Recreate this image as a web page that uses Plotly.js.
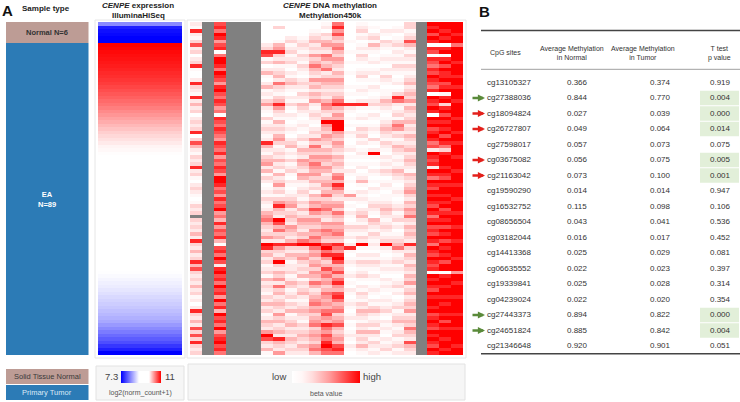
<!DOCTYPE html>
<html><head><meta charset="utf-8">
<script src="https://cdn.plot.ly/plotly-3.0.1.min.js"></script>
<style>html,body{margin:0;padding:0;background:#fff}#chart{width:740px;height:402px}</style>
</head><body><div id="chart"></div>
<script>
const W = 740, H = 402;
const FONT = 'Liberation Sans, Arial, sans-serif';

// ---------- Panel A data ----------
const sampleGroups = ['Normal', 'EA'];
const groupCounts = [6, 89];
const groupLabels = ['<b>Normal N=6</b>', '<b>EA</b><br><b>N=89</b>'];
const sampleLegend = ['Solid Tissue Normal', 'Primary Tumor'];
const groupColors = ['#bd9c95', '#2c7bb6'];

const exprMin = 7.3, exprMax = 11;
const exprNormal = [8.2, 7.5, 7.4, 7.35, 7.3, 7.3];
const exprTumor = [
  11.0,10.98,10.96,10.94,10.92,10.9,10.88,10.85,10.82,10.8,
  10.77,10.74,10.7,10.66,10.62,10.58,10.54,10.5,10.45,10.4,
  10.35,10.3,10.25,10.2,10.15,10.1,10.06,10.02,9.98,9.94,
  9.92,9.9,9.88,9.86,9.84,9.82,9.8,9.78,9.75,9.72,
  9.7,9.67,9.64,9.6,9.57,9.54,9.5,9.47,9.44,9.41,
  9.38,9.35,9.32,9.29,9.26,9.23,9.2,9.17,9.14,9.11,
  9.08,9.05,9.02,9.0,8.98,8.96,8.93,8.9,8.87,8.84,
  8.8,8.76,8.72,8.68,8.64,8.6,8.55,8.5,8.45,8.4,
  8.3,8.2,8.1,8.0,7.9,7.8,7.65,7.5,7.3
];

// methylation beta levels (0 = white ... 9 = red), one string per probe column, 'n' = missing, 'N' = whole column missing
const methCols = [
  '2182137230 2381002832 1824230232 3803742132 3823102321 01323n3232 4283242384 7323242312 0283242737 38323',
  'N',
  '7869857806 9986987589 7687560876 8765876857 6875998675 8679564857 6840786972 8978697859 6849786957 89786',
  'N',
  'N',
  'N',
  '0000002387 1302410241 2135210312 3212842134 5241320121 3212456432 3529834231 2314232132 4231243259 73241',
  '0300014583 2412342632 1348532142 3245312324 2314235231 3584329746 3428532493 2435263423 4325342342 84325',
  '0000231231 2310213421 0213102101 2102341213 1231021012 3452343254 3248324312 2312431231 3241234232 43232',
  '0000123213 2132102321 3214321012 1023124325 4325421232 1324235432 4369324532 3241323421 2343213234 32432',
  '0012342325 3464325342 4352123210 2325364354 6545342314 3547535435 4659645345 3543642345 6453456345 43564',
  '1203245326 5346235432 3246532495 4354324354 3542345346 3456432546 5437968534 7564534654 5467548657 68976',
  '6857435643 5432435432 3468435499 9543543243 4325648643 2453643545 6438658974 5746854786 4563457434 54786',
  '0000010010 0100100010 1018210101 0210012010 1021010015 2010210132 1202810121 0120102101 2101201012 10210',
  '1231201213 2101231012 1028101201 3231201210 1201241021 2102342132 1329102132 1231021321 3243213242 32421',
  '0102314210 1201201021 0123102101 2103102910 1021010210 1232104321 3212102132 1021012102 1342123142 13212',
  '0021032101 2102132101 1243210123 4321321021 2132012101 1234321232 1239210121 2102121012 1231021210 21231',
  '0120123121 2132101201 3862123146 5231243212 1243210121 0123123120 1234621231 2101231201 2312342123 12312',
  '3312374213 2132123423 4352432342 3243234234 3214323453 2435463243 4328324324 3243523423 4352343643 27432',
  'N',
  '9897980870 8768798768 0987980989 7898672987 8298698798 9879868978 7986987987 8198987989 9897898798 98798',
  '9989890891 8979889789 1893897989 8979863899 9898798998 9897898979 8979898979 9089989989 8998979899 89989',
  '9998996999 9899989989 9989999899 9899899989 9989998999 8999899989 9989999899 9599899989 9998999899 99899'
];

// ---------- Panel B data ----------
const cpgSites = ['cg13105327','cg27388036','cg18094824','cg26727807','cg27598017','cg03675082','cg21163042',
  'cg19590290','cg16532752','cg08656504','cg03182044','cg14413368','cg06635552','cg19339841','cg04239024',
  'cg27443373','cg24651824','cg21346648'];
const avgNormal = [0.366,0.844,0.027,0.049,0.057,0.056,0.073,0.014,0.115,0.043,0.016,0.025,0.022,0.025,0.022,0.894,0.885,0.920];
const avgTumor  = [0.374,0.770,0.039,0.064,0.073,0.075,0.100,0.014,0.098,0.041,0.017,0.029,0.023,0.028,0.020,0.822,0.842,0.901];
const pValues   = [0.919,0.004,0.000,0.014,0.075,0.005,0.001,0.947,0.106,0.536,0.452,0.081,0.397,0.314,0.354,0.000,0.004,0.051];
const tableHeaders = ['CpG sites', 'Average Methylation<br>in Normal', 'Average Methylation<br>in Tumor', 'T test<br>p value'];

// ---------- build ----------
const nRows = groupCounts.reduce((a,b)=>a+b,0);
const groupIdx = [];
groupCounts.forEach((c,g)=>{ for(let i=0;i<c;i++) groupIdx.push(g); });
const exprAll = exprNormal.concat(exprTumor);

const betaZ = [], naZ = [];
for (let r=0;r<nRows;r++){ betaZ.push([]); naZ.push([]); }
methCols.forEach((s,c)=>{
  const str = s.replace(/ /g,'');
  for (let r=0;r<nRows;r++){
    const ch = (str==='N') ? 'n' : str[r];
    if (ch==='n' || ch===undefined){ betaZ[r][c]=null; naZ[r][c]=1; }
    else { betaZ[r][c]=(+ch)/9; naZ[r][c]=null; }
  }
});

const px = v => v/W, py = v => 1 - v/H;
const betaScale = [[0,'#ffffff'],[0.15,'#fff6f6'],[0.3,'#ffdcdc'],[0.55,'#ff9c9c'],[1,'#ff0000']];

const traces = [
  { type:'heatmap', xaxis:'x', yaxis:'y', z: groupIdx.map(g=>[g]), zmin:0, zmax:1,
    colorscale:[[0,groupColors[0]],[0.5,groupColors[0]],[0.5,groupColors[1]],[1,groupColors[1]]],
    showscale:false, hoverinfo:'skip' },
  { type:'heatmap', xaxis:'x2', yaxis:'y', z: exprAll.map(v=>[v]), zmin:exprMin, zmax:exprMax,
    colorscale:[[0,'#0000ff'],[0.45,'#ffffff'],[0.7,'#ffffff'],[1,'#ff0000']], hoverinfo:'skip',
    colorbar:{orientation:'h', x:px(141), xanchor:'center', y:py(376.5), yanchor:'middle',
      len:40, lenmode:'pixels', thickness:12, thicknessmode:'pixels', showticklabels:false, ticks:'',
      outlinewidth:0, xpad:0, ypad:0, bgcolor:'rgba(0,0,0,0)'} },
  { type:'heatmap', xaxis:'x3', yaxis:'y', z: naZ, zmin:0, zmax:1,
    colorscale:[[0,'#808080'],[1,'#808080']], showscale:false, hoverinfo:'skip' },
  { type:'heatmap', xaxis:'x3', yaxis:'y', z: betaZ, zmin:0, zmax:1,
    colorscale:betaScale, hoverinfo:'skip',
    colorbar:{orientation:'h', x:px(326), xanchor:'center', y:py(376.5), yanchor:'middle',
      len:68, lenmode:'pixels', thickness:12, thicknessmode:'pixels', showticklabels:false, ticks:'',
      outlinewidth:0, xpad:0, ypad:0, bgcolor:'rgba(0,0,0,0)'} }
];

// table text traces
const rowsY = cpgSites.map((_,i)=>i);
const tcols = [
  {x:509, text:cpgSites},
  {x:577, text:avgNormal.map(v=>v.toFixed(3))},
  {x:660, text:avgTumor.map(v=>v.toFixed(3))},
  {x:720, text:pValues.map(v=>v.toFixed(3))}
];
tcols.forEach(tc=>{
  traces.push({ type:'scatter', mode:'text', xaxis:'x4', yaxis:'y4', x:rowsY.map(()=>tc.x), y:rowsY,
    text:tc.text, textposition:'middle center', cliponaxis:false, hoverinfo:'skip',
    textfont:{family:FONT, size:8, color:'#333'} });
});

const shapes = [];
const annotations = [];

// panel frames
shapes.push({type:'rect', xref:'paper', yref:'paper', x0:px(95), x1:px(185), y0:py(358), y1:py(20),
  line:{color:'#e6e6e6', width:1}, fillcolor:'rgba(0,0,0,0)', layer:'below'});
shapes.push({type:'rect', xref:'paper', yref:'paper', x0:px(187), x1:px(466), y0:py(358), y1:py(20),
  line:{color:'#e6e6e6', width:1}, fillcolor:'rgba(0,0,0,0)', layer:'below'});
// legend panels
shapes.push({type:'rect', xref:'paper', yref:'paper', x0:px(96), x1:px(184), y0:py(400), y1:py(366),
  line:{color:'#e2e2e2', width:1}, fillcolor:'#f6f6f6', layer:'below'});
shapes.push({type:'rect', xref:'paper', yref:'paper', x0:px(188), x1:px(465), y0:py(400), y1:py(364),
  line:{color:'#e2e2e2', width:1}, fillcolor:'#f6f6f6', layer:'below'});
// sample type legend boxes
sampleLegend.forEach((lab,i)=>{
  const top = 369 + i*16, bot = top + 15;
  shapes.push({type:'rect', xref:'paper', yref:'paper', x0:px(6), x1:px(88.5), y0:py(bot), y1:py(top),
    line:{width:0}, fillcolor:groupColors[i], layer:'below'});
  annotations.push({xref:'paper', yref:'paper', x:px(47), y:py((top+bot)/2), text:lab, showarrow:false,
    xanchor:'center', yanchor:'middle', font:{family:FONT, size:7.5, color: i===0 ? '#3a3a3a' : '#dbe9f6'}});
});

// group labels on the sample-type bar
let acc = 0;
groupCounts.forEach((c,g)=>{
  annotations.push({xref:'x', yref:'y', x:0, y: acc + (c-1)/2, text:groupLabels[g], showarrow:false,
    xanchor:'center', yanchor:'middle', font:{family:FONT, size:7.5, color: g===0 ? '#333' : '#ffffff'}});
  acc += c;
});

// titles
const T = (x,y,text,size,opts={}) => annotations.push(Object.assign({xref:'paper', yref:'paper', x:px(x), y:py(y),
  text, showarrow:false, xanchor:'center', yanchor:'middle', font:{family:FONT, size, color:'#222'}}, opts));
T(7, 10, '<b>A</b>', 15, {font:{family:FONT, size:15, color:'#111'}});
T(484, 11, '<b>B</b>', 15, {font:{family:FONT, size:15, color:'#111'}});
T(46, 8.5, '<b>Sample type</b>', 8);
T(138, 5, '<b><i>CENPE</i> expression</b>', 8);
T(138, 15.5, '<b>IlluminaHiSeq</b>', 8);
T(330, 5, '<b><i>CENPE</i> DNA methylation</b>', 8);
T(330, 15.5, '<b>Methylation450k</b>', 8);
// legend labels
T(111.5, 376.5, String(exprMin), 9.5, {font:{family:FONT, size:9.5, color:'#444'}});
T(169.5, 376.5, String(exprMax), 9.5, {font:{family:FONT, size:9.5, color:'#444'}});
T(140, 393, 'log2(norm_count+1)', 7, {font:{family:FONT, size:7, color:'#555'}});
T(279, 376.5, 'low', 9.5, {font:{family:FONT, size:9.5, color:'#444'}});
T(372, 376.5, 'high', 9.5, {font:{family:FONT, size:9.5, color:'#444'}});
T(326, 393, 'beta value', 7, {font:{family:FONT, size:7, color:'#555'}});

// table headers and rules
const hdrX = [505, 572, 643, 719];
tableHeaders.forEach((h,i)=>{
  annotations.push({xref:'x4', yref:'y4', x:hdrX[i], y:-1.9, text:h, showarrow:false, xanchor:'center',
    yanchor:'middle', align:'center', font:{family:FONT, size:7, color:'#333'}});
});
const hline = (y,w,c) => shapes.push({type:'line', xref:'x4', yref:'y4', x0:481, x1:740, y0:y, y1:y,
  line:{color:c, width:w}});
hline(-3.35, 1.6, '#444');
hline(-0.85, 0.8, '#888');
hline(17.5, 1.6, '#444');

// significant p-value highlights and arrows
cpgSites.forEach((s,i)=>{
  if (pValues[i] < 0.05){
    shapes.push({type:'rect', xref:'x4', yref:'y4', x0:700, x1:739, y0:i-0.46, y1:i+0.46,
      line:{width:0}, fillcolor:'#e2efd9', layer:'below'});
    const col = avgTumor[i] < avgNormal[i] ? '#5a8a3a' : '#e3201b';
    annotations.push({xref:'x4', yref:'y4', x:485, y:i, ax:-14, ay:0,
      text:'', showarrow:true, arrowhead:2, arrowsize:0.55, arrowwidth:2.6, arrowcolor:col});
  }
});

const layout = {
  width:W, height:H, margin:{l:0,r:0,t:0,b:0}, paper_bgcolor:'#ffffff', plot_bgcolor:'rgba(0,0,0,0)',
  showlegend:false, hovermode:false,
  xaxis:{domain:[px(6),px(88.5)], range:[-0.5,0.5], visible:false, anchor:'y', fixedrange:true},
  xaxis2:{domain:[px(98),px(182)], range:[-0.5,0.5], visible:false, anchor:'y', fixedrange:true},
  xaxis3:{domain:[px(190),px(463)], range:[-0.5,methCols.length-0.5], visible:false, anchor:'y', fixedrange:true},
  yaxis:{domain:[py(355),py(22)], range:[nRows-0.5,-0.5], visible:false, anchor:'x', fixedrange:true},
  xaxis4:{domain:[0,1], range:[0,W], visible:false, anchor:'y4', fixedrange:true},
  yaxis4:{domain:[0,1], range:[(H-82.5)/15.5, -82.5/15.5], visible:false, anchor:'x4', fixedrange:true},
  shapes, annotations
};

Plotly.newPlot('chart', traces, layout, {displayModeBar:false, staticPlot:true});
</script>
</body></html>
